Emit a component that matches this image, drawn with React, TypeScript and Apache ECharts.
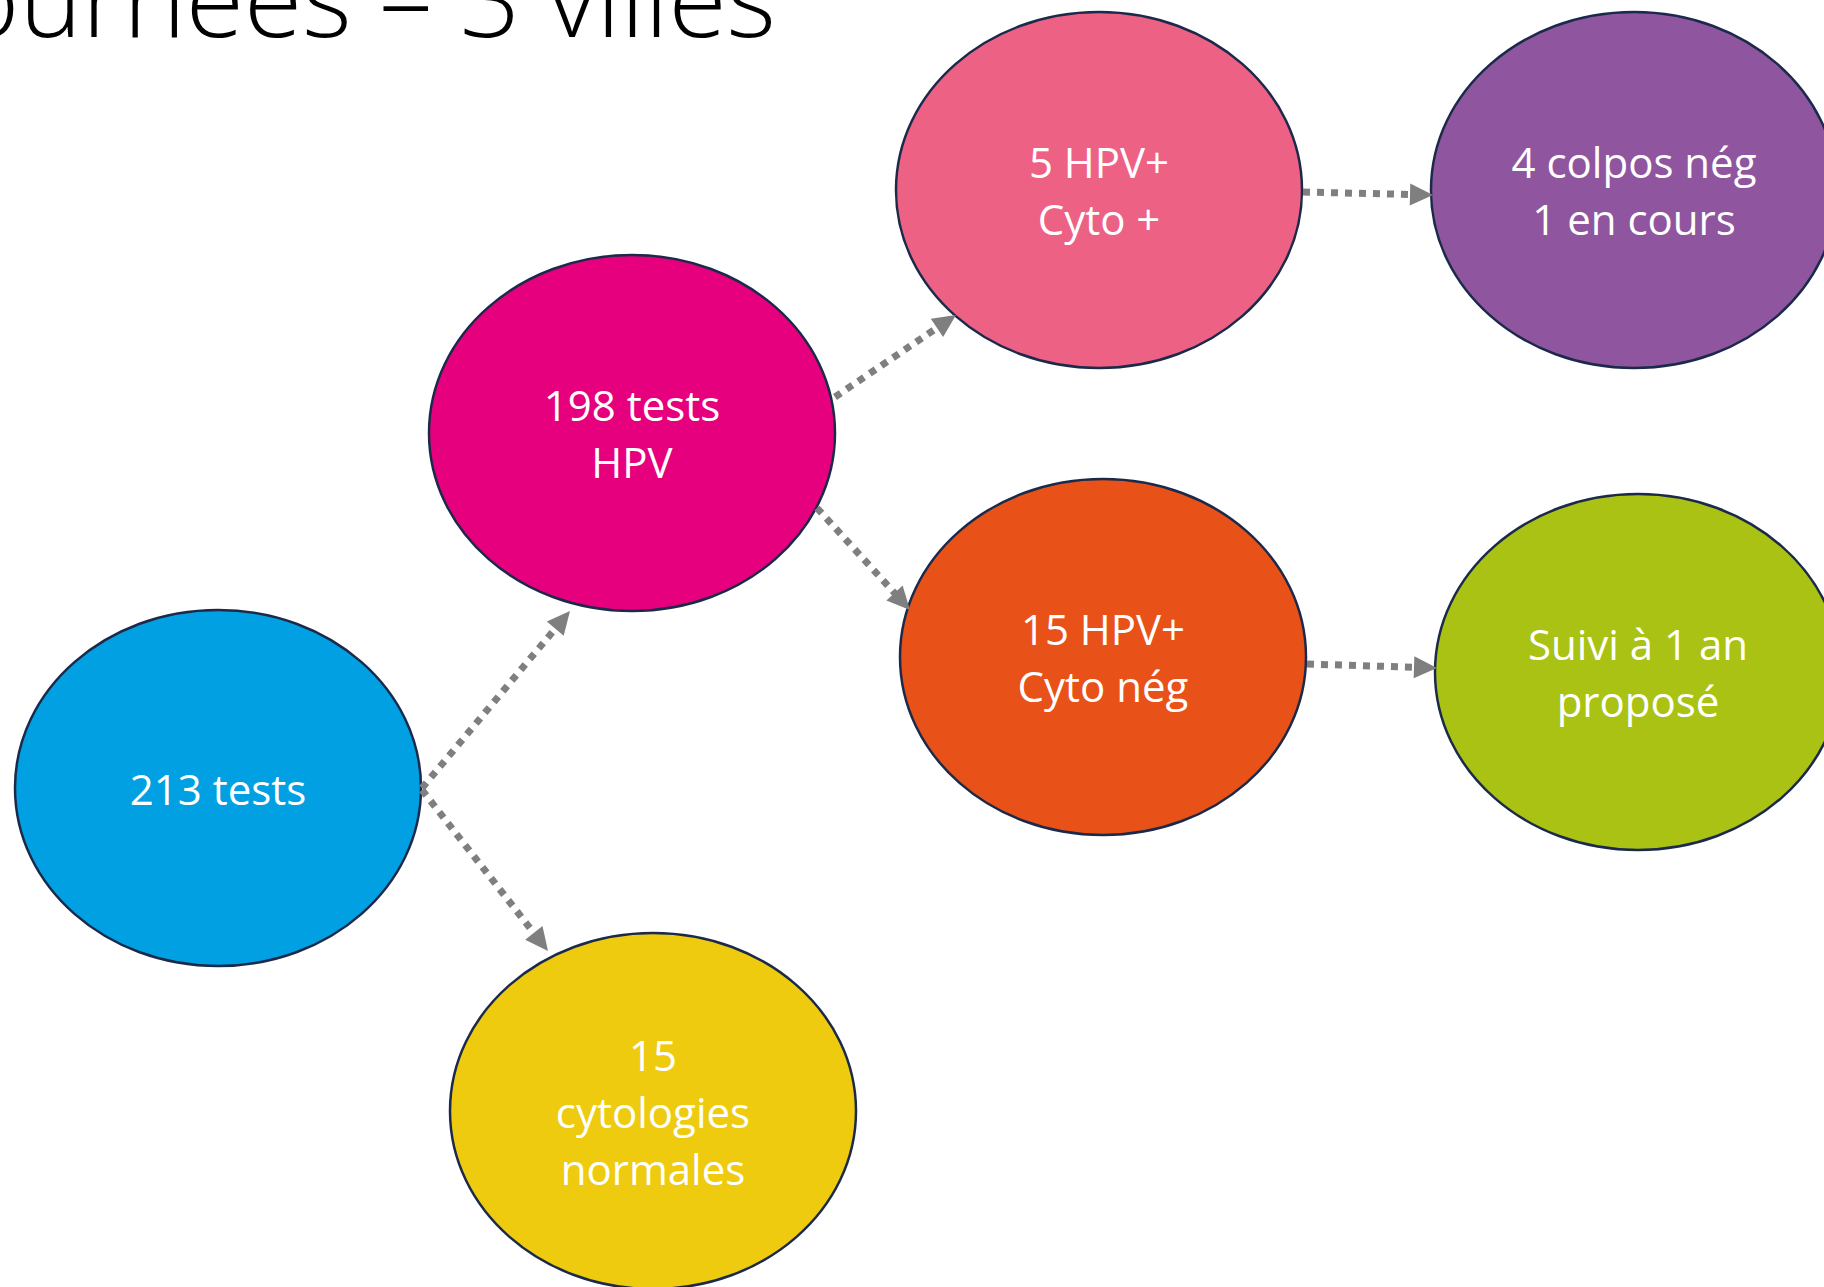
import React, { useEffect, useRef } from "react";
import * as echarts from "echarts";

// Node content
const nodeLabels: string[] = [
  "213 tests",
  "198 tests\nHPV",
  "15\ncytologies\nnormales",
  "5 HPV+\nCyto +",
  "15 HPV+\nCyto nég",
  "4 colpos nég\n1 en cours",
  "Suivi à 1 an\nproposé",
];
const nodeColors: string[] = [
  "#00A0E3",
  "#E6007E",
  "#EFCB0F",
  "#ED6185",
  "#E85118",
  "#8F559E",
  "#AAC213",
];
// Links: [from, to]
const links: [number, number][] = [
  [0, 1],
  [0, 2],
  [1, 3],
  [1, 4],
  [3, 5],
  [4, 6],
];
const titleText = "Journées – 3 villes";

// Layout (positions in px)
const nodeCenters: [number, number][] = [
  [218, 788],
  [632, 433],
  [653, 1111],
  [1099, 190],
  [1103, 657],
  [1634, 190],
  [1638, 672],
];
const RX = 203;
const RY = 178;
// Arrow start / tip points per link
const linkPoints: [number, number, number, number][] = [
  [422, 788, 570, 611],
  [422, 790, 548, 951],
  [835, 397, 956, 315],
  [817, 508, 910, 610],
  [1303, 192, 1433, 195],
  [1307, 664, 1437, 668],
];

const FONT = "'Open Sans', 'Noto Sans', sans-serif";

export default function App() {
  const ref = useRef<HTMLDivElement>(null);
  useEffect(() => {
    document.body.style.margin = "0";
    if (!ref.current) return;
    const chart = echarts.init(ref.current, null, { renderer: "svg" });
    const elements: any[] = [];

    // Title
    elements.push({
      type: "text",
      x: 776,
      y: -4,
      z: 10,
      style: {
        text: titleText,
        fill: "#000000",
        fontSize: 106,
        fontWeight: 300,
        fontFamily: FONT,
        align: "right",
        verticalAlign: "middle",
      },
    });

    // Arrows
    links.forEach((lk, i) => {
      const [x1, y1, x2, y2] = linkPoints[i];
      const dx = x2 - x1;
      const dy = y2 - y1;
      const len = Math.sqrt(dx * dx + dy * dy);
      const ux = dx / len;
      const uy = dy / len;
      const headLen = 23;
      const headW = 11;
      const bx = x2 - ux * headLen;
      const by = y2 - uy * headLen;
      elements.push({
        type: "line",
        z: 5,
        shape: { x1, y1, x2: bx + ux * 2, y2: by + uy * 2 },
        style: {
          stroke: "#7F7F7F",
          lineWidth: 7,
          lineDash: [7, 7],
          lineCap: "butt",
        },
      });
      elements.push({
        type: "polygon",
        z: 5,
        shape: {
          points: [
            [x2, y2],
            [bx - uy * headW, by + ux * headW],
            [bx + uy * headW, by - ux * headW],
          ],
        },
        style: { fill: "#7F7F7F" },
      });
    });

    // Nodes
    nodeLabels.forEach((label, i) => {
      const [cx, cy] = nodeCenters[i];
      elements.push({
        type: "ellipse",
        z: 3,
        shape: { cx, cy, rx: RX, ry: RY },
        style: { fill: nodeColors[i], stroke: "#1B2A4A", lineWidth: 2.5 },
      });
      elements.push({
        type: "text",
        z: 4,
        x: cx,
        y: cy,
        style: {
          text: label,
          fill: "#FFFFFF",
          fontSize: 42,
          fontFamily: FONT,
          lineHeight: 57,
          align: "center",
          verticalAlign: "middle",
        },
      });
    });

    chart.setOption({
      animation: false,
      backgroundColor: "#FFFFFF",
      graphic: { elements },
    });
    return () => chart.dispose();
  }, []);
  return (
    <div
      ref={ref}
      style={{ position: "absolute", left: 0, top: 0, width: 1824, height: 1287 }}
    />
  );
}
